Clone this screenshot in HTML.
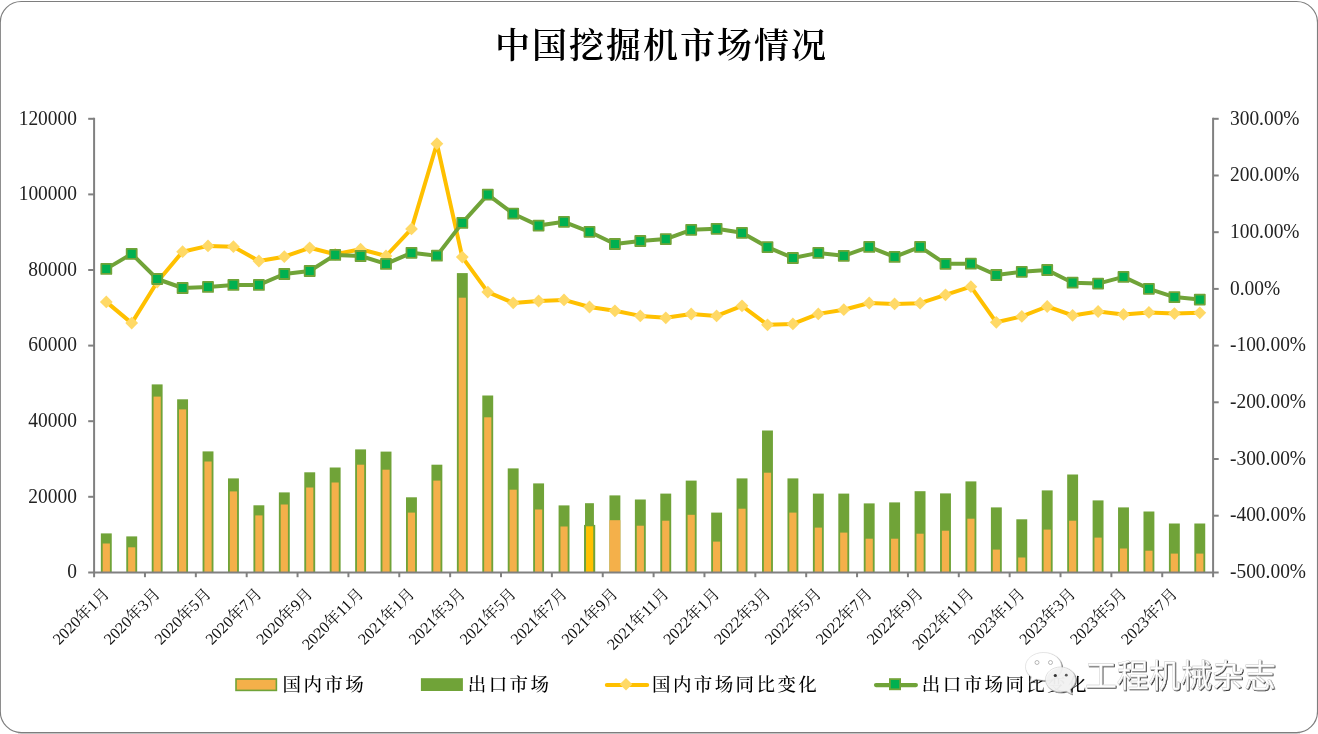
<!DOCTYPE html>
<html lang="zh-CN"><head><meta charset="utf-8"><title>中国挖掘机市场情况</title>
<style>html,body{margin:0;padding:0;background:#fff;}body{width:1318px;height:734px;overflow:hidden;}svg{display:block}</style>
</head><body>
<svg width="1318" height="734" viewBox="0 0 1318 734">
<rect x="0" y="0" width="1318" height="734" fill="#fff"/>
<rect x="18" y="733" width="1282" height="1" fill="#dadada"/>
<rect x="0.3" y="1.45" width="1317.2" height="731.1" rx="21" ry="21" fill="#fff" stroke="#7e7e7e" stroke-width="1.15"/>
<g shape-rendering="auto">
<rect x="100.85" y="533.40" width="10.90" height="39.00" fill="#70A338"/>
<rect x="102.70" y="543.50" width="7.20" height="28.90" fill="#F4B04A"/>
<rect x="126.28" y="536.40" width="10.90" height="36.00" fill="#70A338"/>
<rect x="128.13" y="547.30" width="7.20" height="25.10" fill="#F4B04A"/>
<rect x="151.71" y="384.40" width="10.90" height="188.00" fill="#70A338"/>
<rect x="153.56" y="396.60" width="7.20" height="175.80" fill="#F4B04A"/>
<rect x="177.14" y="399.30" width="10.90" height="173.10" fill="#70A338"/>
<rect x="178.99" y="409.40" width="7.20" height="163.00" fill="#F4B04A"/>
<rect x="202.57" y="451.40" width="10.90" height="121.00" fill="#70A338"/>
<rect x="204.42" y="461.50" width="7.20" height="110.90" fill="#F4B04A"/>
<rect x="228.00" y="478.40" width="10.90" height="94.00" fill="#70A338"/>
<rect x="229.85" y="491.40" width="7.20" height="81.00" fill="#F4B04A"/>
<rect x="253.43" y="505.30" width="10.90" height="67.10" fill="#70A338"/>
<rect x="255.28" y="515.40" width="7.20" height="57.00" fill="#F4B04A"/>
<rect x="278.86" y="492.40" width="10.90" height="80.00" fill="#70A338"/>
<rect x="280.71" y="504.50" width="7.20" height="67.90" fill="#F4B04A"/>
<rect x="304.29" y="472.30" width="10.90" height="100.10" fill="#70A338"/>
<rect x="306.14" y="487.50" width="7.20" height="84.90" fill="#F4B04A"/>
<rect x="329.72" y="467.50" width="10.90" height="104.90" fill="#70A338"/>
<rect x="331.57" y="482.50" width="7.20" height="89.90" fill="#F4B04A"/>
<rect x="355.15" y="449.40" width="10.90" height="123.00" fill="#70A338"/>
<rect x="357.00" y="464.70" width="7.20" height="107.70" fill="#F4B04A"/>
<rect x="380.58" y="451.60" width="10.90" height="120.80" fill="#70A338"/>
<rect x="382.43" y="469.70" width="7.20" height="102.70" fill="#F4B04A"/>
<rect x="406.01" y="497.30" width="10.90" height="75.10" fill="#70A338"/>
<rect x="407.86" y="512.60" width="7.20" height="59.80" fill="#F4B04A"/>
<rect x="431.44" y="464.70" width="10.90" height="107.70" fill="#70A338"/>
<rect x="433.29" y="480.60" width="7.20" height="91.80" fill="#F4B04A"/>
<rect x="456.87" y="273.10" width="10.90" height="299.30" fill="#70A338"/>
<rect x="458.72" y="297.70" width="7.20" height="274.70" fill="#F4B04A"/>
<rect x="482.30" y="395.50" width="10.90" height="176.90" fill="#70A338"/>
<rect x="484.15" y="417.30" width="7.20" height="155.10" fill="#F4B04A"/>
<rect x="507.73" y="468.40" width="10.90" height="104.00" fill="#70A338"/>
<rect x="509.58" y="489.70" width="7.20" height="82.70" fill="#F4B04A"/>
<rect x="533.16" y="483.40" width="10.90" height="89.00" fill="#70A338"/>
<rect x="535.01" y="509.50" width="7.20" height="62.90" fill="#F4B04A"/>
<rect x="558.59" y="505.40" width="10.90" height="67.00" fill="#70A338"/>
<rect x="560.44" y="526.50" width="7.20" height="45.90" fill="#F4B04A"/>
<rect x="585.02" y="503.20" width="8.90" height="69.20" fill="#70A338"/>
<rect x="584.02" y="524.90" width="11.20" height="47.50" fill="#70A338"/>
<rect x="586.02" y="526.30" width="7.20" height="46.10" fill="#FFC000"/>
<rect x="609.45" y="495.40" width="10.90" height="77.00" fill="#70A338"/>
<rect x="609.45" y="520.20" width="10.90" height="52.20" fill="#F4B04A"/>
<rect x="634.88" y="499.50" width="10.90" height="72.90" fill="#70A338"/>
<rect x="636.73" y="525.70" width="7.20" height="46.70" fill="#F4B04A"/>
<rect x="660.31" y="493.60" width="10.90" height="78.80" fill="#70A338"/>
<rect x="662.16" y="520.70" width="7.20" height="51.70" fill="#F4B04A"/>
<rect x="685.74" y="480.60" width="10.90" height="91.80" fill="#70A338"/>
<rect x="687.59" y="514.80" width="7.20" height="57.60" fill="#F4B04A"/>
<rect x="711.17" y="512.60" width="10.90" height="59.80" fill="#70A338"/>
<rect x="713.02" y="541.60" width="7.20" height="30.80" fill="#F4B04A"/>
<rect x="736.60" y="478.40" width="10.90" height="94.00" fill="#70A338"/>
<rect x="738.45" y="508.70" width="7.20" height="63.70" fill="#F4B04A"/>
<rect x="762.03" y="430.50" width="10.90" height="141.90" fill="#70A338"/>
<rect x="763.88" y="472.70" width="7.20" height="99.70" fill="#F4B04A"/>
<rect x="787.46" y="478.40" width="10.90" height="94.00" fill="#70A338"/>
<rect x="789.31" y="512.60" width="7.20" height="59.80" fill="#F4B04A"/>
<rect x="812.89" y="493.60" width="10.90" height="78.80" fill="#70A338"/>
<rect x="814.74" y="527.60" width="7.20" height="44.80" fill="#F4B04A"/>
<rect x="838.32" y="493.60" width="10.90" height="78.80" fill="#70A338"/>
<rect x="840.17" y="532.60" width="7.20" height="39.80" fill="#F4B04A"/>
<rect x="863.75" y="503.40" width="10.90" height="69.00" fill="#70A338"/>
<rect x="865.60" y="538.70" width="7.20" height="33.70" fill="#F4B04A"/>
<rect x="889.18" y="502.40" width="10.90" height="70.00" fill="#70A338"/>
<rect x="891.03" y="538.70" width="7.20" height="33.70" fill="#F4B04A"/>
<rect x="914.61" y="491.20" width="10.90" height="81.20" fill="#70A338"/>
<rect x="916.46" y="533.70" width="7.20" height="38.70" fill="#F4B04A"/>
<rect x="940.04" y="493.40" width="10.90" height="79.00" fill="#70A338"/>
<rect x="941.89" y="530.70" width="7.20" height="41.70" fill="#F4B04A"/>
<rect x="965.47" y="481.40" width="10.90" height="91.00" fill="#70A338"/>
<rect x="967.32" y="518.70" width="7.20" height="53.70" fill="#F4B04A"/>
<rect x="990.90" y="507.40" width="10.90" height="65.00" fill="#70A338"/>
<rect x="992.75" y="549.60" width="7.20" height="22.80" fill="#F4B04A"/>
<rect x="1016.33" y="519.30" width="10.90" height="53.10" fill="#70A338"/>
<rect x="1018.18" y="557.50" width="7.20" height="14.90" fill="#F4B04A"/>
<rect x="1041.76" y="490.40" width="10.90" height="82.00" fill="#70A338"/>
<rect x="1043.61" y="529.60" width="7.20" height="42.80" fill="#F4B04A"/>
<rect x="1067.19" y="474.50" width="10.90" height="97.90" fill="#70A338"/>
<rect x="1069.04" y="520.70" width="7.20" height="51.70" fill="#F4B04A"/>
<rect x="1092.62" y="500.40" width="10.90" height="72.00" fill="#70A338"/>
<rect x="1094.47" y="537.60" width="7.20" height="34.80" fill="#F4B04A"/>
<rect x="1118.05" y="507.40" width="10.90" height="65.00" fill="#70A338"/>
<rect x="1119.90" y="548.50" width="7.20" height="23.90" fill="#F4B04A"/>
<rect x="1143.48" y="511.50" width="10.90" height="60.90" fill="#70A338"/>
<rect x="1145.33" y="550.70" width="7.20" height="21.70" fill="#F4B04A"/>
<rect x="1168.91" y="523.50" width="10.90" height="48.90" fill="#70A338"/>
<rect x="1170.76" y="553.60" width="7.20" height="18.80" fill="#F4B04A"/>
<rect x="1194.34" y="523.50" width="10.90" height="48.90" fill="#70A338"/>
<rect x="1196.19" y="553.60" width="7.20" height="18.80" fill="#F4B04A"/>
</g>
<g stroke="#808080" stroke-width="2" fill="none">
<path d="M94.1 117.8 V577.1999999999999"/>
<path d="M1213.1 117.8 V577.1999999999999"/>
<path d="M88.19999999999999 572.4 H1218.6999999999998"/>
<path d="M88.19999999999999 118.80 H94.1"/>
<path d="M88.19999999999999 194.40 H94.1"/>
<path d="M88.19999999999999 270.00 H94.1"/>
<path d="M88.19999999999999 345.60 H94.1"/>
<path d="M88.19999999999999 421.20 H94.1"/>
<path d="M88.19999999999999 496.80 H94.1"/>
<path d="M1213.1 118.80 H1218.6999999999998"/>
<path d="M1213.1 175.50 H1218.6999999999998"/>
<path d="M1213.1 232.20 H1218.6999999999998"/>
<path d="M1213.1 288.90 H1218.6999999999998"/>
<path d="M1213.1 345.60 H1218.6999999999998"/>
<path d="M1213.1 402.30 H1218.6999999999998"/>
<path d="M1213.1 459.00 H1218.6999999999998"/>
<path d="M1213.1 515.70 H1218.6999999999998"/>
<path d="M144.96 572.4 V577.1999999999999"/>
<path d="M195.83 572.4 V577.1999999999999"/>
<path d="M246.69 572.4 V577.1999999999999"/>
<path d="M297.55 572.4 V577.1999999999999"/>
<path d="M348.42 572.4 V577.1999999999999"/>
<path d="M399.28 572.4 V577.1999999999999"/>
<path d="M450.15 572.4 V577.1999999999999"/>
<path d="M501.01 572.4 V577.1999999999999"/>
<path d="M551.87 572.4 V577.1999999999999"/>
<path d="M602.74 572.4 V577.1999999999999"/>
<path d="M653.60 572.4 V577.1999999999999"/>
<path d="M704.46 572.4 V577.1999999999999"/>
<path d="M755.33 572.4 V577.1999999999999"/>
<path d="M806.19 572.4 V577.1999999999999"/>
<path d="M857.05 572.4 V577.1999999999999"/>
<path d="M907.92 572.4 V577.1999999999999"/>
<path d="M958.78 572.4 V577.1999999999999"/>
<path d="M1009.65 572.4 V577.1999999999999"/>
<path d="M1060.51 572.4 V577.1999999999999"/>
<path d="M1111.37 572.4 V577.1999999999999"/>
<path d="M1162.24 572.4 V577.1999999999999"/>
</g>
<polyline points="106.3,301.9 131.7,323.1 157.2,282.0 182.6,251.7 208.0,245.9 233.4,246.7 258.9,261.0 284.3,256.7 309.7,247.8 335.2,254.3 360.6,249.2 386.0,256.0 411.5,228.9 436.9,143.7 462.3,257.1 487.8,292.1 513.2,302.9 538.6,301.0 564.0,299.9 589.5,307.0 614.9,310.8 640.3,315.9 665.8,317.8 691.2,314.0 716.6,315.9 742.0,305.8 767.5,324.8 792.9,323.9 818.3,313.9 843.8,309.7 869.2,303.0 894.6,303.9 920.1,303.2 945.5,294.8 970.9,286.7 996.3,322.3 1021.8,316.4 1047.2,306.5 1072.6,315.4 1098.1,311.5 1123.5,314.4 1148.9,312.4 1174.4,313.6 1199.8,312.8" fill="none" stroke="#FFC000" stroke-width="4" stroke-linejoin="round" stroke-linecap="round"/>
<path d="M106.3 295.5 L112.7 301.9 L106.3 308.3 L99.9 301.9 Z" fill="#FFD966"/>
<path d="M131.7 316.7 L138.1 323.1 L131.7 329.5 L125.3 323.1 Z" fill="#FFD966"/>
<path d="M157.2 275.6 L163.6 282.0 L157.2 288.4 L150.8 282.0 Z" fill="#FFD966"/>
<path d="M182.6 245.3 L189.0 251.7 L182.6 258.1 L176.2 251.7 Z" fill="#FFD966"/>
<path d="M208.0 239.5 L214.4 245.9 L208.0 252.3 L201.6 245.9 Z" fill="#FFD966"/>
<path d="M233.4 240.3 L239.8 246.7 L233.4 253.1 L227.0 246.7 Z" fill="#FFD966"/>
<path d="M258.9 254.6 L265.3 261.0 L258.9 267.4 L252.5 261.0 Z" fill="#FFD966"/>
<path d="M284.3 250.3 L290.7 256.7 L284.3 263.1 L277.9 256.7 Z" fill="#FFD966"/>
<path d="M309.7 241.4 L316.1 247.8 L309.7 254.2 L303.3 247.8 Z" fill="#FFD966"/>
<path d="M335.2 247.9 L341.6 254.3 L335.2 260.7 L328.8 254.3 Z" fill="#FFD966"/>
<path d="M360.6 242.8 L367.0 249.2 L360.6 255.6 L354.2 249.2 Z" fill="#FFD966"/>
<path d="M386.0 249.6 L392.4 256.0 L386.0 262.4 L379.6 256.0 Z" fill="#FFD966"/>
<path d="M411.5 222.5 L417.9 228.9 L411.5 235.3 L405.1 228.9 Z" fill="#FFD966"/>
<path d="M436.9 137.3 L443.3 143.7 L436.9 150.1 L430.5 143.7 Z" fill="#FFD966"/>
<path d="M462.3 250.7 L468.7 257.1 L462.3 263.5 L455.9 257.1 Z" fill="#FFD966"/>
<path d="M487.8 285.7 L494.1 292.1 L487.8 298.5 L481.4 292.1 Z" fill="#FFD966"/>
<path d="M513.2 296.5 L519.6 302.9 L513.2 309.3 L506.8 302.9 Z" fill="#FFD966"/>
<path d="M538.6 294.6 L545.0 301.0 L538.6 307.4 L532.2 301.0 Z" fill="#FFD966"/>
<path d="M564.0 293.5 L570.4 299.9 L564.0 306.3 L557.6 299.9 Z" fill="#FFD966"/>
<path d="M589.5 300.6 L595.9 307.0 L589.5 313.4 L583.1 307.0 Z" fill="#FFD966"/>
<path d="M614.9 304.4 L621.3 310.8 L614.9 317.2 L608.5 310.8 Z" fill="#FFD966"/>
<path d="M640.3 309.5 L646.7 315.9 L640.3 322.3 L633.9 315.9 Z" fill="#FFD966"/>
<path d="M665.8 311.4 L672.2 317.8 L665.8 324.2 L659.4 317.8 Z" fill="#FFD966"/>
<path d="M691.2 307.6 L697.6 314.0 L691.2 320.4 L684.8 314.0 Z" fill="#FFD966"/>
<path d="M716.6 309.5 L723.0 315.9 L716.6 322.3 L710.2 315.9 Z" fill="#FFD966"/>
<path d="M742.0 299.4 L748.4 305.8 L742.0 312.2 L735.6 305.8 Z" fill="#FFD966"/>
<path d="M767.5 318.4 L773.9 324.8 L767.5 331.2 L761.1 324.8 Z" fill="#FFD966"/>
<path d="M792.9 317.5 L799.3 323.9 L792.9 330.3 L786.5 323.9 Z" fill="#FFD966"/>
<path d="M818.3 307.5 L824.7 313.9 L818.3 320.3 L811.9 313.9 Z" fill="#FFD966"/>
<path d="M843.8 303.3 L850.2 309.7 L843.8 316.1 L837.4 309.7 Z" fill="#FFD966"/>
<path d="M869.2 296.6 L875.6 303.0 L869.2 309.4 L862.8 303.0 Z" fill="#FFD966"/>
<path d="M894.6 297.5 L901.0 303.9 L894.6 310.3 L888.2 303.9 Z" fill="#FFD966"/>
<path d="M920.1 296.8 L926.5 303.2 L920.1 309.6 L913.7 303.2 Z" fill="#FFD966"/>
<path d="M945.5 288.4 L951.9 294.8 L945.5 301.2 L939.1 294.8 Z" fill="#FFD966"/>
<path d="M970.9 280.3 L977.3 286.7 L970.9 293.1 L964.5 286.7 Z" fill="#FFD966"/>
<path d="M996.3 315.9 L1002.7 322.3 L996.3 328.7 L989.9 322.3 Z" fill="#FFD966"/>
<path d="M1021.8 310.0 L1028.2 316.4 L1021.8 322.8 L1015.4 316.4 Z" fill="#FFD966"/>
<path d="M1047.2 300.1 L1053.6 306.5 L1047.2 312.9 L1040.8 306.5 Z" fill="#FFD966"/>
<path d="M1072.6 309.0 L1079.0 315.4 L1072.6 321.8 L1066.2 315.4 Z" fill="#FFD966"/>
<path d="M1098.1 305.1 L1104.5 311.5 L1098.1 317.9 L1091.7 311.5 Z" fill="#FFD966"/>
<path d="M1123.5 308.0 L1129.9 314.4 L1123.5 320.8 L1117.1 314.4 Z" fill="#FFD966"/>
<path d="M1148.9 306.0 L1155.3 312.4 L1148.9 318.8 L1142.5 312.4 Z" fill="#FFD966"/>
<path d="M1174.4 307.2 L1180.8 313.6 L1174.4 320.0 L1168.0 313.6 Z" fill="#FFD966"/>
<path d="M1199.8 306.4 L1206.2 312.8 L1199.8 319.2 L1193.4 312.8 Z" fill="#FFD966"/>
<polyline points="106.3,268.9 131.7,253.9 157.2,279.0 182.6,288.0 208.0,286.9 233.4,284.9 258.9,284.9 284.3,274.0 309.7,271.0 335.2,254.9 360.6,256.0 386.0,263.9 411.5,252.8 436.9,255.7 462.3,222.9 487.8,194.6 513.2,213.7 538.6,225.6 564.0,221.8 589.5,231.8 614.9,244.0 640.3,241.0 665.8,239.1 691.2,229.8 716.6,228.8 742.0,232.8 767.5,247.1 792.9,258.0 818.3,252.9 843.8,255.8 869.2,246.9 894.6,256.9 920.1,246.9 945.5,263.8 970.9,263.7 996.3,275.0 1021.8,271.8 1047.2,270.0 1072.6,282.7 1098.1,283.6 1123.5,276.9 1148.9,288.8 1174.4,297.1 1199.8,299.6" fill="none" stroke="#70A338" stroke-width="4" stroke-linejoin="round" stroke-linecap="round"/>
<rect x="101.3" y="263.9" width="10" height="10" fill="#00B050" stroke="#70A338" stroke-width="1.8" stroke-linejoin="round"/>
<rect x="126.7" y="248.9" width="10" height="10" fill="#00B050" stroke="#70A338" stroke-width="1.8" stroke-linejoin="round"/>
<rect x="152.2" y="274.0" width="10" height="10" fill="#00B050" stroke="#70A338" stroke-width="1.8" stroke-linejoin="round"/>
<rect x="177.6" y="283.0" width="10" height="10" fill="#00B050" stroke="#70A338" stroke-width="1.8" stroke-linejoin="round"/>
<rect x="203.0" y="281.9" width="10" height="10" fill="#00B050" stroke="#70A338" stroke-width="1.8" stroke-linejoin="round"/>
<rect x="228.4" y="279.9" width="10" height="10" fill="#00B050" stroke="#70A338" stroke-width="1.8" stroke-linejoin="round"/>
<rect x="253.9" y="279.9" width="10" height="10" fill="#00B050" stroke="#70A338" stroke-width="1.8" stroke-linejoin="round"/>
<rect x="279.3" y="269.0" width="10" height="10" fill="#00B050" stroke="#70A338" stroke-width="1.8" stroke-linejoin="round"/>
<rect x="304.7" y="266.0" width="10" height="10" fill="#00B050" stroke="#70A338" stroke-width="1.8" stroke-linejoin="round"/>
<rect x="330.2" y="249.9" width="10" height="10" fill="#00B050" stroke="#70A338" stroke-width="1.8" stroke-linejoin="round"/>
<rect x="355.6" y="251.0" width="10" height="10" fill="#00B050" stroke="#70A338" stroke-width="1.8" stroke-linejoin="round"/>
<rect x="381.0" y="258.9" width="10" height="10" fill="#00B050" stroke="#70A338" stroke-width="1.8" stroke-linejoin="round"/>
<rect x="406.5" y="247.8" width="10" height="10" fill="#00B050" stroke="#70A338" stroke-width="1.8" stroke-linejoin="round"/>
<rect x="431.9" y="250.7" width="10" height="10" fill="#00B050" stroke="#70A338" stroke-width="1.8" stroke-linejoin="round"/>
<rect x="457.3" y="217.9" width="10" height="10" fill="#00B050" stroke="#70A338" stroke-width="1.8" stroke-linejoin="round"/>
<rect x="482.8" y="189.6" width="10" height="10" fill="#00B050" stroke="#70A338" stroke-width="1.8" stroke-linejoin="round"/>
<rect x="508.2" y="208.7" width="10" height="10" fill="#00B050" stroke="#70A338" stroke-width="1.8" stroke-linejoin="round"/>
<rect x="533.6" y="220.6" width="10" height="10" fill="#00B050" stroke="#70A338" stroke-width="1.8" stroke-linejoin="round"/>
<rect x="559.0" y="216.8" width="10" height="10" fill="#00B050" stroke="#70A338" stroke-width="1.8" stroke-linejoin="round"/>
<rect x="584.5" y="226.8" width="10" height="10" fill="#00B050" stroke="#70A338" stroke-width="1.8" stroke-linejoin="round"/>
<rect x="609.9" y="239.0" width="10" height="10" fill="#00B050" stroke="#70A338" stroke-width="1.8" stroke-linejoin="round"/>
<rect x="635.3" y="236.0" width="10" height="10" fill="#00B050" stroke="#70A338" stroke-width="1.8" stroke-linejoin="round"/>
<rect x="660.8" y="234.1" width="10" height="10" fill="#00B050" stroke="#70A338" stroke-width="1.8" stroke-linejoin="round"/>
<rect x="686.2" y="224.8" width="10" height="10" fill="#00B050" stroke="#70A338" stroke-width="1.8" stroke-linejoin="round"/>
<rect x="711.6" y="223.8" width="10" height="10" fill="#00B050" stroke="#70A338" stroke-width="1.8" stroke-linejoin="round"/>
<rect x="737.0" y="227.8" width="10" height="10" fill="#00B050" stroke="#70A338" stroke-width="1.8" stroke-linejoin="round"/>
<rect x="762.5" y="242.1" width="10" height="10" fill="#00B050" stroke="#70A338" stroke-width="1.8" stroke-linejoin="round"/>
<rect x="787.9" y="253.0" width="10" height="10" fill="#00B050" stroke="#70A338" stroke-width="1.8" stroke-linejoin="round"/>
<rect x="813.3" y="247.9" width="10" height="10" fill="#00B050" stroke="#70A338" stroke-width="1.8" stroke-linejoin="round"/>
<rect x="838.8" y="250.8" width="10" height="10" fill="#00B050" stroke="#70A338" stroke-width="1.8" stroke-linejoin="round"/>
<rect x="864.2" y="241.9" width="10" height="10" fill="#00B050" stroke="#70A338" stroke-width="1.8" stroke-linejoin="round"/>
<rect x="889.6" y="251.9" width="10" height="10" fill="#00B050" stroke="#70A338" stroke-width="1.8" stroke-linejoin="round"/>
<rect x="915.1" y="241.9" width="10" height="10" fill="#00B050" stroke="#70A338" stroke-width="1.8" stroke-linejoin="round"/>
<rect x="940.5" y="258.8" width="10" height="10" fill="#00B050" stroke="#70A338" stroke-width="1.8" stroke-linejoin="round"/>
<rect x="965.9" y="258.7" width="10" height="10" fill="#00B050" stroke="#70A338" stroke-width="1.8" stroke-linejoin="round"/>
<rect x="991.3" y="270.0" width="10" height="10" fill="#00B050" stroke="#70A338" stroke-width="1.8" stroke-linejoin="round"/>
<rect x="1016.8" y="266.8" width="10" height="10" fill="#00B050" stroke="#70A338" stroke-width="1.8" stroke-linejoin="round"/>
<rect x="1042.2" y="265.0" width="10" height="10" fill="#00B050" stroke="#70A338" stroke-width="1.8" stroke-linejoin="round"/>
<rect x="1067.6" y="277.7" width="10" height="10" fill="#00B050" stroke="#70A338" stroke-width="1.8" stroke-linejoin="round"/>
<rect x="1093.1" y="278.6" width="10" height="10" fill="#00B050" stroke="#70A338" stroke-width="1.8" stroke-linejoin="round"/>
<rect x="1118.5" y="271.9" width="10" height="10" fill="#00B050" stroke="#70A338" stroke-width="1.8" stroke-linejoin="round"/>
<rect x="1143.9" y="283.8" width="10" height="10" fill="#00B050" stroke="#70A338" stroke-width="1.8" stroke-linejoin="round"/>
<rect x="1169.4" y="292.1" width="10" height="10" fill="#00B050" stroke="#70A338" stroke-width="1.8" stroke-linejoin="round"/>
<rect x="1194.8" y="294.6" width="10" height="10" fill="#00B050" stroke="#70A338" stroke-width="1.8" stroke-linejoin="round"/>
<g font-family="'Liberation Serif', serif" font-size="21.7" fill="#222">
<text transform="translate(76.9 124.6) scale(0.895 1)" text-anchor="end">120000</text>
<text transform="translate(76.9 200.2) scale(0.895 1)" text-anchor="end">100000</text>
<text transform="translate(76.9 275.8) scale(0.895 1)" text-anchor="end">80000</text>
<text transform="translate(76.9 351.4) scale(0.895 1)" text-anchor="end">60000</text>
<text transform="translate(76.9 427.0) scale(0.895 1)" text-anchor="end">40000</text>
<text transform="translate(76.9 502.6) scale(0.895 1)" text-anchor="end">20000</text>
<text transform="translate(76.9 578.2) scale(0.895 1)" text-anchor="end">0</text>
<text transform="translate(1230 124.5) scale(0.895 1)">300.00%</text>
<text transform="translate(1230 181.2) scale(0.895 1)">200.00%</text>
<text transform="translate(1230 237.9) scale(0.895 1)">100.00%</text>
<text transform="translate(1230 294.6) scale(0.895 1)">0.00%</text>
<text transform="translate(1230 351.3) scale(0.895 1)">-100.00%</text>
<text transform="translate(1230 408.0) scale(0.895 1)">-200.00%</text>
<text transform="translate(1230 464.7) scale(0.895 1)">-300.00%</text>
<text transform="translate(1230 521.4) scale(0.895 1)">-400.00%</text>
<text transform="translate(1230 578.1) scale(0.895 1)">-500.00%</text>
</g>
<g font-family="'Liberation Serif', 'Noto Serif CJK SC', serif" font-size="16" fill="#111" text-anchor="end">
<text transform="translate(106.5 590.9) rotate(-45)" x="0" y="5.3">2020年1月</text>
<text transform="translate(157.4 590.9) rotate(-45)" x="0" y="5.3">2020年3月</text>
<text transform="translate(208.2 590.9) rotate(-45)" x="0" y="5.3">2020年5月</text>
<text transform="translate(259.1 590.9) rotate(-45)" x="0" y="5.3">2020年7月</text>
<text transform="translate(309.9 590.9) rotate(-45)" x="0" y="5.3">2020年9月</text>
<text transform="translate(360.8 590.9) rotate(-45)" x="0" y="5.3">2020年11月</text>
<text transform="translate(411.7 590.9) rotate(-45)" x="0" y="5.3">2021年1月</text>
<text transform="translate(462.5 590.9) rotate(-45)" x="0" y="5.3">2021年3月</text>
<text transform="translate(513.4 590.9) rotate(-45)" x="0" y="5.3">2021年5月</text>
<text transform="translate(564.2 590.9) rotate(-45)" x="0" y="5.3">2021年7月</text>
<text transform="translate(615.1 590.9) rotate(-45)" x="0" y="5.3">2021年9月</text>
<text transform="translate(666.0 590.9) rotate(-45)" x="0" y="5.3">2021年11月</text>
<text transform="translate(716.8 590.9) rotate(-45)" x="0" y="5.3">2022年1月</text>
<text transform="translate(767.7 590.9) rotate(-45)" x="0" y="5.3">2022年3月</text>
<text transform="translate(818.5 590.9) rotate(-45)" x="0" y="5.3">2022年5月</text>
<text transform="translate(869.4 590.9) rotate(-45)" x="0" y="5.3">2022年7月</text>
<text transform="translate(920.3 590.9) rotate(-45)" x="0" y="5.3">2022年9月</text>
<text transform="translate(971.1 590.9) rotate(-45)" x="0" y="5.3">2022年11月</text>
<text transform="translate(1022.0 590.9) rotate(-45)" x="0" y="5.3">2023年1月</text>
<text transform="translate(1072.8 590.9) rotate(-45)" x="0" y="5.3">2023年3月</text>
<text transform="translate(1123.7 590.9) rotate(-45)" x="0" y="5.3">2023年5月</text>
<text transform="translate(1174.6 590.9) rotate(-45)" x="0" y="5.3">2023年7月</text>
</g>
<text x="661.6" y="58.0" text-anchor="middle" font-family="'Liberation Serif', 'Noto Serif CJK SC', serif" font-weight="600" font-size="35" letter-spacing="2" fill="#000">中国挖掘机市场情况</text>
<g font-family="'Liberation Serif', 'Noto Serif CJK SC', serif" font-size="18.5" font-weight="500" letter-spacing="2.4" fill="#000">
<rect x="236" y="679" width="40.4" height="11.4" fill="#F4B04A" stroke="#70A338" stroke-width="1.6"/>
<text x="282.5" y="690.8">国内市场</text>
<rect x="420.9" y="678.2" width="42" height="12.8" fill="#70A338"/>
<text x="467.8" y="690.8">出口市场</text>
<path d="M606.9 685 H647.1" stroke="#FFC000" stroke-width="4.2" stroke-linecap="round"/>
<path d="M626 677.9 L632.3 684.2 L626 690.5 L619.7 684.2 Z" fill="#FFD966"/>
<text x="652" y="690.8">国内市场同比变化</text>
<path d="M876 685.05 H915.9" stroke="#70A338" stroke-width="4.2" stroke-linecap="round"/>
<rect x="889.9" y="679.1" width="10.2" height="10.2" fill="#00B050" stroke="#70A338" stroke-width="1.8"/>
<text x="921.8" y="690.8">出口市场同比变化</text>
</g>
<defs><filter id="sh" x="-20%" y="-20%" width="140%" height="140%"><feDropShadow dx="0.9" dy="0.9" stdDeviation="0.55" flood-color="#000" flood-opacity="0.85"/></filter></defs>
<g filter="url(#sh)">
<path d="M1043.5 652.5 c-10 0 -18 6.3 -18 14 c0 4.3 2.4 8 6.2 10.6 l-1.8 5.2 l6.2 -3.2 c2.3 0.7 4.8 1.2 7.4 1.2 c10 0 18 -6.300 18 -13.8 c0 -7.7 -8 -14 -18 -14 z" fill="#fff" stroke="#cfcfcf" stroke-width="0.5"/>
</g>
<circle cx="1037" cy="662.5" r="2" fill="#fff" stroke="#999" stroke-width="0.7"/><circle cx="1050.5" cy="662.5" r="2" fill="#fff" stroke="#999" stroke-width="0.7"/>
<g filter="url(#sh)">
<path d="M1060.5 667 c-8.3 0 -15 5.6 -15 12.500 c0 6.900 6.700 12.500 15 12.500 c2 0 3.900 -0.300 5.600 -0.900 l5.400 2.900 l-1.500 -4.600 c3.300 -2.300 5.500 -5.800 5.500 -9.900 c0 -6.900 -6.700 -12.500 -15 -12.500 z" fill="#fff" fill-opacity="0.85" stroke="#c4c4c4" stroke-width="0.5"/>
</g>
<circle cx="1055.3" cy="675.5" r="1.6" fill="#333"/><circle cx="1066.3" cy="675.2" r="1.4" fill="#555"/>
<text x="1085" y="686.8" font-family="'Liberation Sans', 'Noto Sans CJK SC', sans-serif" font-size="31.8" font-weight="400" fill="#fff" stroke="#c8c8c8" stroke-width="0.4" filter="url(#sh)">工程机械杂志</text>
</svg>
</body></html>
